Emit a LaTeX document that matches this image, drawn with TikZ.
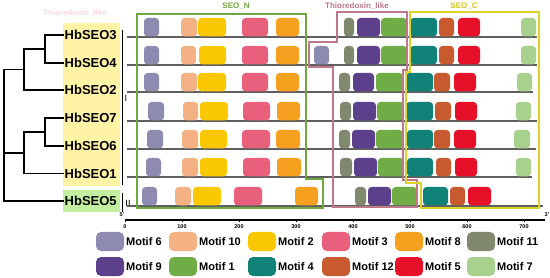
\documentclass[tikz,border=0pt]{standalone}
\usepackage{fontspec}
\setmainfont{Liberation Sans}
\definecolor{mA}{RGB}{112,173,71}   % motif 1
\definecolor{mB}{RGB}{250,200,0}    % motif 2
\definecolor{mC}{RGB}{232,96,124}   % motif 3
\definecolor{mD}{RGB}{16,130,120}   % motif 4
\definecolor{mE}{RGB}{230,16,40}    % motif 5
\definecolor{mF}{RGB}{142,139,176}  % motif 6
\definecolor{mG}{RGB}{169,209,142}  % motif 7
\definecolor{mH}{RGB}{245,160,30}   % motif 8
\definecolor{mI}{RGB}{92,64,140}    % motif 9
\definecolor{mJ}{RGB}{244,177,131}  % motif 10
\definecolor{mK}{RGB}{128,136,110}  % motif 11
\definecolor{mL}{RGB}{200,90,48}    % motif 12
\definecolor{lbyel}{RGB}{255,243,165}
\definecolor{lbgrn}{RGB}{195,240,160}
\definecolor{seon}{RGB}{112,168,64}
\definecolor{thio}{RGB}{190,120,135}
\definecolor{seoc}{RGB}{220,210,40}
\definecolor{seoctxt}{RGB}{215,195,20}
\definecolor{ghost}{RGB}{250,215,230}
\newcommand{\mtf}[4]{\fill[#1,rounded corners=3.5pt] (#2,#4-19) rectangle (#3,#4-0.6);}
\begin{document}
\begin{tikzpicture}[x=1pt,y=-1pt,font=\bfseries,
  leaf/.style={anchor=west,inner sep=0.5pt,font=\fontsize{13}{13}\selectfont\bfseries},
  tree/.style={line width=1.8pt,line join=miter},
  bb/.style={line width=1.1pt,draw={rgb,255:red,95;green,95;blue,95}},
  dom/.style={line width=2.4pt,line join=miter},
  domlab/.style={font=\fontsize{8}{8}\selectfont\bfseries},
  ticklab/.style={font=\fontsize{5.5}{5.5}\selectfont\bfseries,inner sep=0pt},
  legbox/.style={rounded corners=5pt},
  legtxt/.style={anchor=west,inner sep=0pt,font=\fontsize{11}{11}\selectfont\bfseries}]
\useasboundingbox (0,0) rectangle (550,278);
\fill[white] (0,0) rectangle (550,278);

% faint ghost text
\node[domlab,text=ghost] (ghost) at (75,13) {Thioredoxin\_like};

% label backgrounds
\fill[lbyel] (63,23) rectangle (120,186);
\fill[lbgrn] (63,190) rectangle (120,212);

% leaves
\foreach \n/\y in {3/35,4/62.7,2/90.3,7/118,6/145.8,1/173.5,5/201.2}
  {\node[leaf] (L\n) at (64,\y) {HbSEO\n};}

% tree
\coordinate (n34) at (45,48.85);
\coordinate (n342) at (24,69.6);
\coordinate (n76) at (45,131.9);
\coordinate (n761) at (24,152.7);
\coordinate (root) at (4,152.7);
\draw[tree] (L3.west) -| (n34) |- (L4.west);
\draw[tree] (n34) -| (n342) |- (L2.west);
\draw[tree] (L7.west) -| (n76) |- (L6.west);
\draw[tree] (n76) -| (n761) |- (L1.west);
\draw[tree] (n342) -| (root) |- (L5.west);
\draw[tree] (n761) -- (root);

% group bars
\draw[line width=0.9pt] (122,30) -- (122,185);
\node[font=\fontsize{9}{9}\selectfont,inner sep=0pt] (gI) at (126,98) {I};
\draw[line width=0.9pt] (122,193) -- (122,212);
\node[font=\fontsize{9}{9}\selectfont,inner sep=0pt] (gII) at (128,203) {II};

% backbones
\foreach \y/\e in {37/537,65/537,92/533,121/537,149/536,177/532,206/543}
  {\draw[bb] (127,\y) -- (\e,\y);}

% row 1
\foreach \c/\a/\b in {mF/144/159,mJ/181/197,mB/198/226,mC/242/268,mH/276/299,mK/344/354,mI/357/380,mA/381/407,mD/410/437,mL/439/454,mE/458/480,mG/521/536}
  {\mtf{\c}{\a}{\b}{37}}
% row 2
\foreach \c/\a/\b in {mF/144/159,mJ/181/196,mB/199/226,mC/242/268,mH/276/299,mF/314/329,mK/344/354,mI/357/380,mA/381/407,mD/410/437,mL/439/454,mE/458/480,mG/521/536}
  {\mtf{\c}{\a}{\b}{65}}
% row 3
\foreach \c/\a/\b in {mF/144/159,mJ/181/197,mB/198/226,mC/242/268,mH/276/299,mK/339/350,mI/353/374,mA/376/403,mD/406/433,mL/434/450,mE/454/476,mG/517/532}
  {\mtf{\c}{\a}{\b}{92}}
% row 4
\foreach \c/\a/\b in {mF/148/164,mJ/183/198,mB/200/228,mC/243/270,mH/277/300,mK/340/351,mI/353/376,mA/377/404,mD/406/433,mL/435/451,mE/455/477,mG/516/531}
  {\mtf{\c}{\a}{\b}{121}}
% row 5
\foreach \c/\a/\b in {mF/147/163,mJ/182/198,mB/200/227,mC/242/270,mH/276/300,mK/339/350,mI/352/375,mA/376/403,mD/407/433,mL/434/450,mE/454/476,mG/514/530}
  {\mtf{\c}{\a}{\b}{149}}
% row 6
\foreach \c/\a/\b in {mF/146/161,mJ/182/198,mB/200/227,mC/243/270,mH/277/301,mK/340/352,mI/354/377,mA/378/404,mD/407/433,mL/436/451,mE/455/477,mG/516/531}
  {\mtf{\c}{\a}{\b}{177}}
% row 7
\foreach \c/\a/\b in {mF/142/157,mJ/175/191,mB/193/221,mC/234/262,mH/295/318,mK/355/366,mI/368/391,mA/392/417,mD/423/448,mL/450/465,mE/468/491}
  {\mtf{\c}{\a}{\b}{206}}

% domain outlines
\draw[dom,seon] (137,14) -- (306,14) -- (306,179) -- (323,179) -- (323,208) -- (137,208) -- cycle;
\draw[dom,thio] (337,12) -- (407,12) -- (407,70) -- (403,70) -- (403,180) -- (417,180) -- (417,207) -- (333,207) -- (333,67) -- (309,67) -- (309,42) -- (337,42) -- cycle;
\draw[dom,seoc] (410,12) -- (539,12) -- (539,208) -- (421,208) -- (421,183) -- (406,183) -- (406,72) -- (410,72) -- cycle;
\node[domlab,text=seon] (tN) at (236,6) {SEO\_N};
\node[domlab,text=thio] (tT) at (357,6) {Thioredoxin\_like};
\node[domlab,text=seoctxt] (tC) at (464,6) {SEO\_C};

% axis
\draw[line width=1.1pt] (125,220) -- (545,220);
\foreach \i/\t in {0/0,1/100,2/200,3/300,4/400,5/500,6/600,7/700}{
  \draw[line width=0.6pt] (125+57*\i,220) -- (125+57*\i,222.5);
  \node[ticklab] (tk\i) at (125+57*\i,226.5) {\t};
}
\node[ticklab] (p5) at (122,214.5) {5'};
\node[ticklab] (p3) at (547,215) {3'};

% legend
\foreach \c/\t/\x in {mF/6/96,mJ/10/169,mB/2/248,mC/3/322,mH/8/395,mK/11/467}{
  \fill[legbox,\c] (\x,232) rectangle (\x+28,251);
  \node[legtxt] (lg\t) at (\x+30,241.5) {Motif \t};
}
\foreach \c/\t/\x in {mI/9/96,mA/1/169,mD/4/248,mL/12/322,mE/5/395,mG/7/467}{
  \fill[legbox,\c] (\x,257) rectangle (\x+28,276);
  \node[legtxt] (lg\t) at (\x+30,266.5) {Motif \t};
}
\end{tikzpicture}
\end{document}
